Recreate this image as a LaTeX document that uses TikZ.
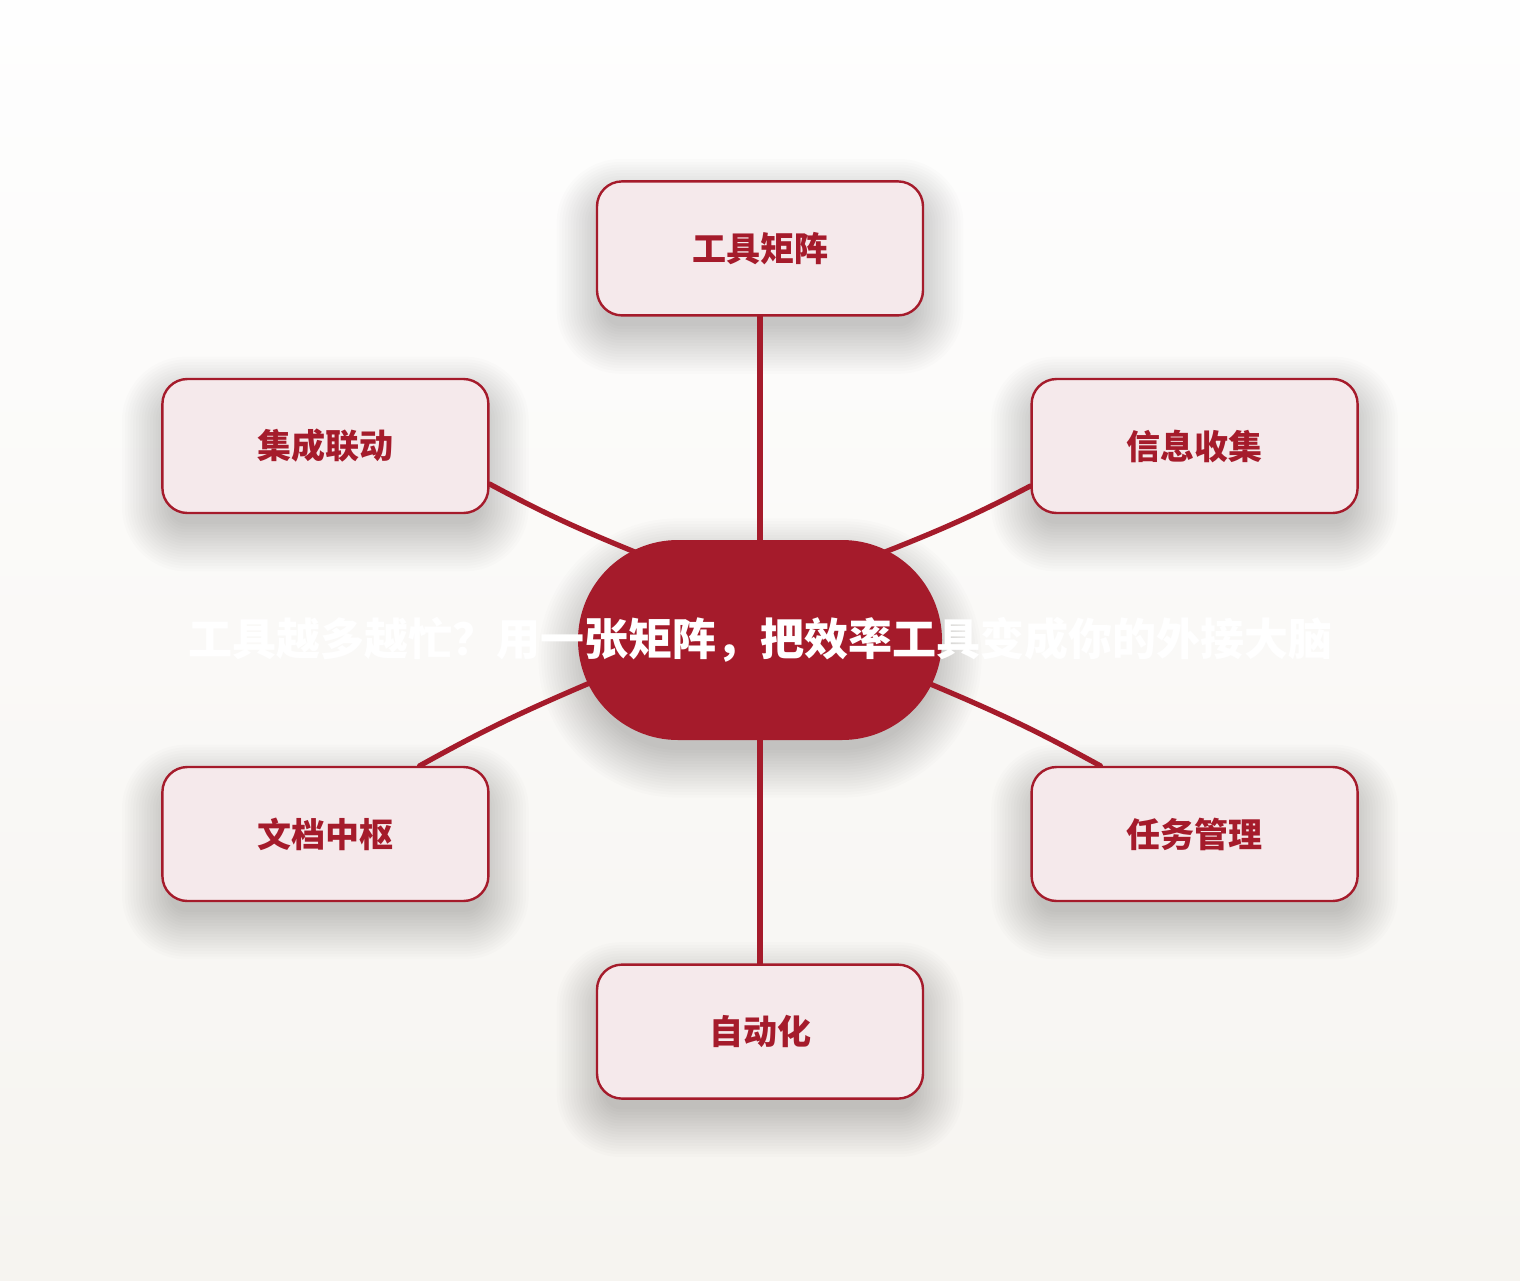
\documentclass[tikz,border=0pt]{standalone}
\usepackage{fontspec}
\newfontfamily\cjk{Noto Sans CJK SC}
\usetikzlibrary{positioning}
\definecolor{matrixred}{HTML}{A51B2B}
\definecolor{leaffill}{HTML}{F5E9EB}
\definecolor{bgtop}{HTML}{FEFEFE}
\definecolor{bgbottom}{HTML}{F6F4F0}
\pgfdeclarelayer{canvas}
\pgfdeclarelayer{haze}
\pgfdeclarelayer{links}
\pgfsetlayers{canvas,haze,links,main}

\begin{document}
\begin{tikzpicture}[
    x=0.5pt, y=-0.5pt,
    node distance=111.5pt and 44pt, %% Vertical and horizontal distance
    hub/.style={
        rectangle,
        rounded corners=50pt,
        fill=matrixred,
        minimum width=182pt,
        minimum height=100pt
    },
    headline/.style={
        font=\cjk\bfseries\fontsize{22pt}{26pt}\selectfont,
        text=white,
        inner sep=0pt
    },
    leaf/.style={
        rectangle,
        rounded corners=12.5pt,
        draw=matrixred,
        line width=1.2pt,
        fill=leaffill,
        text=matrixred,
        font=\cjk\bfseries\fontsize{17pt}{20pt}\selectfont,
        minimum width=163pt,
        minimum height=67pt
    },
    link/.style={
        draw=matrixred,
        line width=2.6pt,
        line cap=round
    },
    haze/.style={
        fill=black,
        opacity=0.011
    }
]

%% Background
\begin{pgfonlayer}{canvas}
\shade[top color=bgtop, bottom color=bgbottom] (0,0) rectangle (1520,1280);
\end{pgfonlayer}
\useasboundingbox (0,0) rectangle (1520,1280);

%% Centre
\node[hub] (hub) at (760,640) {};
\node[headline] (headline) at (hub.center) {工具越多越忙？用一张矩阵，把效率工具变成你的外接大脑};

%% Surrounding boxes
\node[leaf, above=of hub] (tools) {工具矩阵};
\node[leaf, below=of hub] (auto) {自动化};
\node[leaf, right=of hub, yshift=97pt] (info) {信息收集};
\node[leaf, right=of hub, yshift=-97pt] (task) {任务管理};
\node[leaf, left=of hub, yshift=97pt] (integ) {集成联动};
\node[leaf, left=of hub, yshift=-97pt] (doc) {文档中枢};

%% Soft shadows
\begin{pgfonlayer}{haze}
\foreach \k in {-3,...,14}{
    \pgfmathsetmacro\grow{\k*1.4}
    \foreach \n in {tools,auto,info,task,integ,doc}
        \fill[haze, rounded corners=12.5pt+\grow pt]
            ([shift={(-\grow pt,\grow pt-9pt)}]\n.north west) rectangle
            ([shift={(\grow pt,-\grow pt-9pt)}]\n.south east);
    \fill[haze, rounded corners=50pt+\grow pt]
        ([shift={(-\grow pt,\grow pt-9pt)}]hub.north west) rectangle
        ([shift={(\grow pt,-\grow pt-9pt)}]hub.south east);
}
\end{pgfonlayer}

%% Connections
\begin{pgfonlayer}{links}
\draw[link] (tools.south) -- (hub.north);
\draw[link] (auto.north) -- (hub.south);
\draw[link, shorten >=-6pt] ([yshift=-20pt]info.west) to[bend left=3] ([shift={(65pt,45pt)}]hub.center);
\draw[link, shorten >=-6pt] ([xshift=35pt]task.north west) to[bend right=3] ([shift={(87.5pt,-23pt)}]hub.center);
\draw[link, shorten >=-6pt] ([yshift=-19pt]integ.east) to[bend right=3] ([shift={(-65pt,45pt)}]hub.center);
\draw[link, shorten >=-6pt] ([xshift=-35pt]doc.north east) to[bend left=3] ([shift={(-87.5pt,-22.5pt)}]hub.center);
\end{pgfonlayer}

\end{tikzpicture}
\end{document}
